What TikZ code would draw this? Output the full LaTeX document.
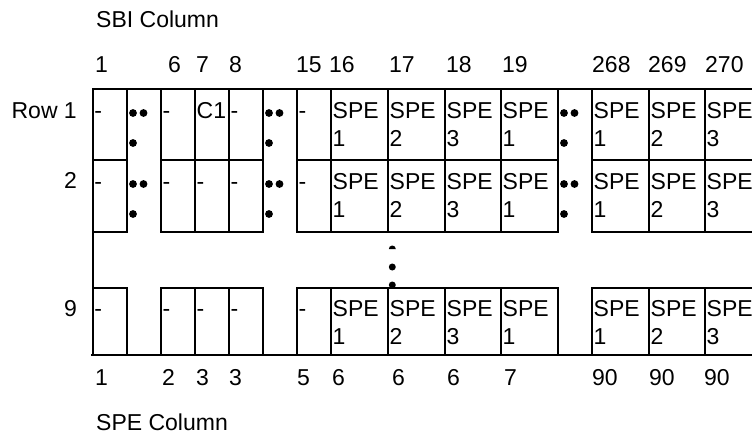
\documentclass[tikz,border=0pt]{standalone}
\usepackage{fontspec}
\setmainfont{Liberation Sans}
\begin{document}
\begin{tikzpicture}[x=1pt,y=-1pt,
  txt/.style={anchor=base west, inner sep=0pt, font=\fontsize{23}{25}\selectfont},
  rlbl/.style={anchor=base east, inner sep=0pt, font=\fontsize{23}{25}\selectfont},
  gridline/.style={line width=1.9pt, line cap=rect},
  baseline/.style={line width=2.6pt, line cap=rect},
  dotfill/.style={fill=black}]
\useasboundingbox (0,0) rectangle (752,434);
% titles
\node[txt] (sbi) at (96,27) {SBI Column};
\node[txt] (spe) at (96,430) {SPE Column};
% header numbers
\foreach \x/\t [count=\i] in {95/1,168/6,196/7,229/8,296/15,329/16,389/17,446/18,502/19,592/268,648/269,705/270}
  \node[txt] (h\i) at (\x,72) {\t};
% bottom numbers
\foreach \x/\t [count=\i] in {95/1,162/2,196/3,229/3,297/5,332/6,392/6,447/6,504/7,592/90,649/90,704/90}
  \node[txt] (b\i) at (\x,385) {\t};
% row labels
\node[rlbl] (row1) at (77,118) {Row 1};
\node[rlbl] (row2) at (77,188) {2};
\node[rlbl] (row9) at (77,316) {9};
% grid horizontals
\draw[gridline] (92.7,89) -- (752,89);
\foreach \y in {160,232,288} {
  \draw[gridline] (92.7,\y) -- (127,\y);
  \draw[gridline] (161,\y) -- (263,\y);
  \draw[gridline] (297,\y) -- (558,\y);
  \draw[gridline] (592,\y) -- (752,\y);
}
\draw[baseline] (92.7,355) -- (752,355);
% grid verticals
\draw[gridline] (92.7,89) -- (92.7,355);
\foreach \x in {127,161,195,229,263,297,331,388,445,501,558,592,649,705} {
  \draw[gridline] (\x,89) -- (\x,232);
  \draw[gridline] (\x,288) -- (\x,355);
}
% short cell texts
\foreach \x/\t [count=\i] in {92.7/-,161/-,195/C1,229/-,297/-}
  \node[txt] (ra\i) at (\x+1.5,118) {\t};
\foreach \x/\t [count=\i] in {92.7/-,161/-,195/-,229/-,297/-}
  \node[txt] (rb\i) at (\x+1.5,189) {\t};
\foreach \x/\t [count=\i] in {92.7/-,161/-,195/-,229/-,297/-}
  \node[txt] (rc\i) at (\x+1.5,316) {\t};
% SPE cells
\foreach \y/\r in {118/a,189/b,316/c} {
  \foreach \x/\n [count=\i] in {331/1,388/2,445/3,501/1,592/1,649/2,705/3} {
    \node[txt] (s\r\i) at (\x+1.5,\y) {SPE};
    \node[txt] (n\r\i) at (\x+1.5,\y+28) {\n};
  }
}
% ellipsis dots in columns
\foreach \x in {127,263,558} {
  \foreach \y in {113,184} {
    \fill[dotfill] (\x+6,\y) circle (3.9);
    \fill[dotfill] (\x+16.5,\y) circle (3.9);
    \fill[dotfill] (\x+6,\y+30) circle (3.9);
  }
}
% vertical dots in gap
\fill[dotfill] (388.8,249) arc[start angle=180,end angle=360,radius=3.5] -- cycle;
\fill[dotfill] (392.3,267) circle (3.5);
\fill[dotfill] (392.3,285) circle (3.5);
\end{tikzpicture}
\end{document}
